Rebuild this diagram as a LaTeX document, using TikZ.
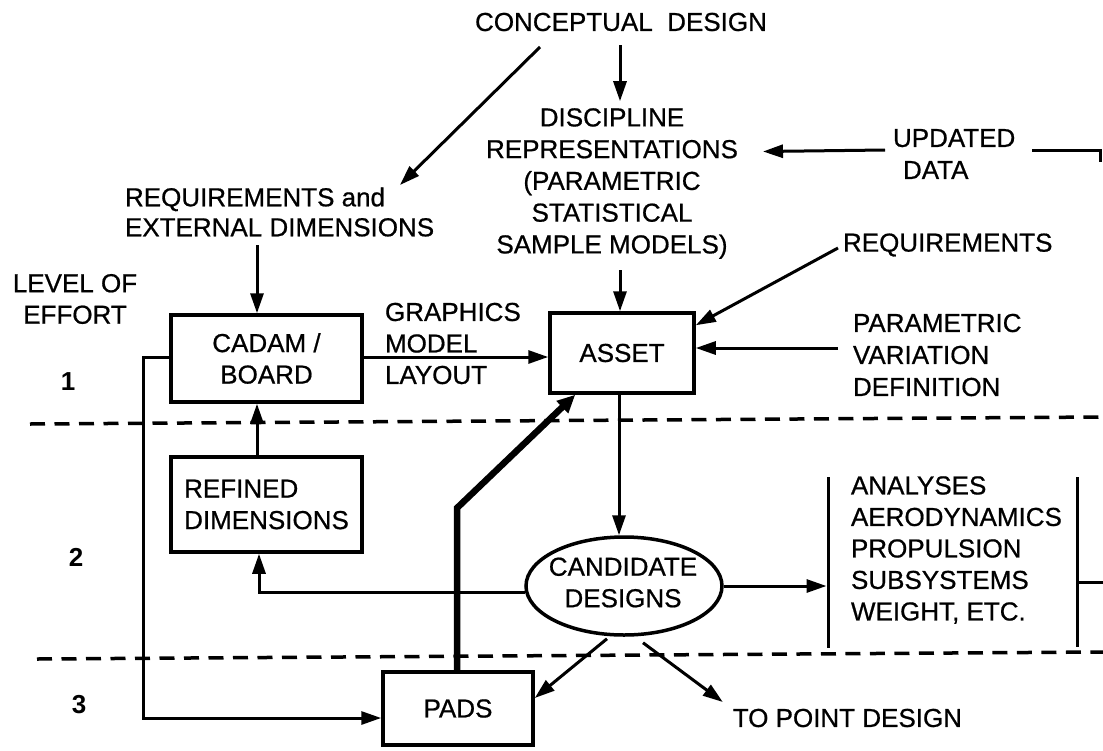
\documentclass[tikz,border=0pt]{standalone}
\usepackage{fontspec}
\setmainfont{Liberation Sans}[FakeBold=0.7]
\newfontfamily\digitfont{Liberation Sans Bold}
\usetikzlibrary{arrows.meta,calc,shapes.geometric}
\begin{document}
\begin{tikzpicture}[x=1pt,y=-1pt,
  every node/.style={font=\fontsize{26}{31.5}\selectfont, inner sep=0pt, outer sep=0pt},
  box/.style={draw, line width=3.5pt, outer sep=auto},
  conn/.style={line width=3pt, -{Triangle[length=20pt,width=13pt]}},
  plain/.style={line width=3pt},
  lvl/.style={line width=3.5pt, dash pattern=on 15pt off 9.5pt},
  thickconn/.style={line width=6.5pt, line join=miter, -{Triangle[length=18pt,width=16pt]}},
  digit/.style={font=\fontsize{26}{31.5}\digitfont}]
\useasboundingbox (0,0) rectangle (1103,750);

% text labels
\node (concept) at (621,22) {CONCEPTUAL\ \ DESIGN};
\node[align=center, font=\fontsize{26}{31.75}\selectfont] (disc) at (612,183.5)
  {DISCIPLINE\\REPRESENTATIONS\\(PARAMETRIC\\STATISTICAL\\SAMPLE MODELS)};
\node[align=left, anchor=west, font=\fontsize{26}{30}\selectfont] (reqext) at (125,212)
  {REQUIREMENTS and\\EXTERNAL DIMENSIONS};
\node[align=left, anchor=west, font=\fontsize{26}{32}\selectfont] (upd) at (893,154) {UPDATED\\\hspace*{10pt}DATA};
\node[anchor=west] (reqR) at (843,245) {REQUIREMENTS};
\node[align=center] (level) at (75,299) {LEVEL OF\\EFFORT};
\node[digit] (one) at (68,382) {1};
\node[digit] (two) at (76,557) {2};
\node[digit] (three) at (79,705) {3};
\node[align=left, anchor=west] (graph) at (385,343.5) {GRAPHICS\\MODEL\\LAYOUT};
\node[align=left, anchor=west, font=\fontsize{26}{32}\selectfont] (param) at (853,355) {PARAMETRIC\\VARIATION\\DEFINITION};
\node[align=left, anchor=west] (anal) at (851,550)
  {ANALYSES\\AERODYNAMICS\\PROPULSION\\SUBSYSTEMS\\WEIGHT, ETC.};
\node[anchor=east] (topt) at (962,718) {TO POINT DESIGN};

% boxes
\node[box, minimum width=191pt, minimum height=87pt, align=center] (cadam) at (266.5,358.5) {CADAM /\\BOARD};
\node[box, minimum width=191pt, minimum height=95pt, align=left] (refined) at (266.5,504.5) {REFINED\\DIMENSIONS};
\node[box, minimum width=144pt, minimum height=80pt] (asset) at (622,353) {ASSET};
\node[box, minimum width=150pt, minimum height=73pt] (pads) at (458,708.5) {PADS};
\node[draw, ellipse, line width=3.5pt, outer sep=auto, minimum width=196pt, minimum height=98pt] (cand) at (624,586) {};
\node[align=center] (candt) at (623,582.5) {CANDIDATE\\DESIGNS};

% bracket and level lines
\coordinate (lbt) at (828,477); \coordinate (lbb) at (828,648);
\coordinate (rbt) at (1077,477); \coordinate (rbb) at (1077,647);
\coordinate (rbm) at (1077,582); \coordinate (rbx) at (1103,582);
\draw[plain] (lbt) -- (lbb);
\draw[plain] (rbt) -- (rbb);
\draw[plain] (rbm) -- (rbx);
\coordinate (d1a) at (30,424); \coordinate (d1b) at (1103,417);
\coordinate (d2a) at (37,659); \coordinate (d2b) at (1103,652);
\draw[lvl] (d1a) -- (d1b);
\draw[lvl] (d2a) -- (d2b);

% connectors
\draw[conn] ($(concept.south)+(-1,14)$) -- ($(concept.south |- disc.north)+(-1,-7)$);
\draw[conn] ($(concept.center)+(-81,25)$) -- ($(reqext.west)+(275,-27)$);
\draw[conn] ($(upd.west)+(-8,-4)$) -- ($(disc.center)+(151,-32)$);
\coordinate (updr) at (1100,150); \coordinate (updd) at (1100,162);
\draw[plain] ($(upd.west)+(139,-4)$) -- (updr) -- (updd);
\draw[conn] ($(reqext.west)+(132,33)$) -- ($(cadam.north)+(-9.5,0)$);
\draw[conn] ($(disc.center)+(8,86.5)$) -- ($(asset.north)+(-2,0)$);
\draw[conn] ($(reqR.west)+(-5,3)$) -- ($(asset.north east)+(0,14)$);
\draw[conn] ($(param.west)+(-15,-7)$) -- ($(asset.east)+(0,-5)$);
\draw[conn] ($(cadam.east)+(0,-1.5)$) -- ($(cadam.east -| asset.west)+(0,-1.5)$);
\coordinate (lp) at (143,600);
\draw[conn] ($(cadam.west)+(0,-1.5)$) -| (lp) |- ($(pads.west)+(0,9.5)$);
\draw[conn] ($(refined.north)+(-9.5,0)$) -- ($(cadam.south)+(-9.5,0)$);
\draw[conn] ($(cand.west)+(1,6)$) -| ($(refined.south)+(-7.5,0)$);
\draw[conn] ($(asset.south)+(-3,0)$) -- ($(asset.south |- cand.north)+(-3,0)$);
\draw[conn, shorten >=1.5pt] (cand.east) -- (cand.east -| lbt);
\draw[conn] ($(cand.south)+(-17,2)$) -- ($(pads.east)+(0,-10.5)$);
\draw[conn] ($(cand.south)+(19,6)$) -- ($(topt.west)+(-10,-16)$);
\coordinate (tbend) at (457,508);
\draw[thickconn] ($(pads.north)+(-1,0)$) -- (tbend) -- ($(asset.south west)+(27,0)$);
\end{tikzpicture}
\end{document}
